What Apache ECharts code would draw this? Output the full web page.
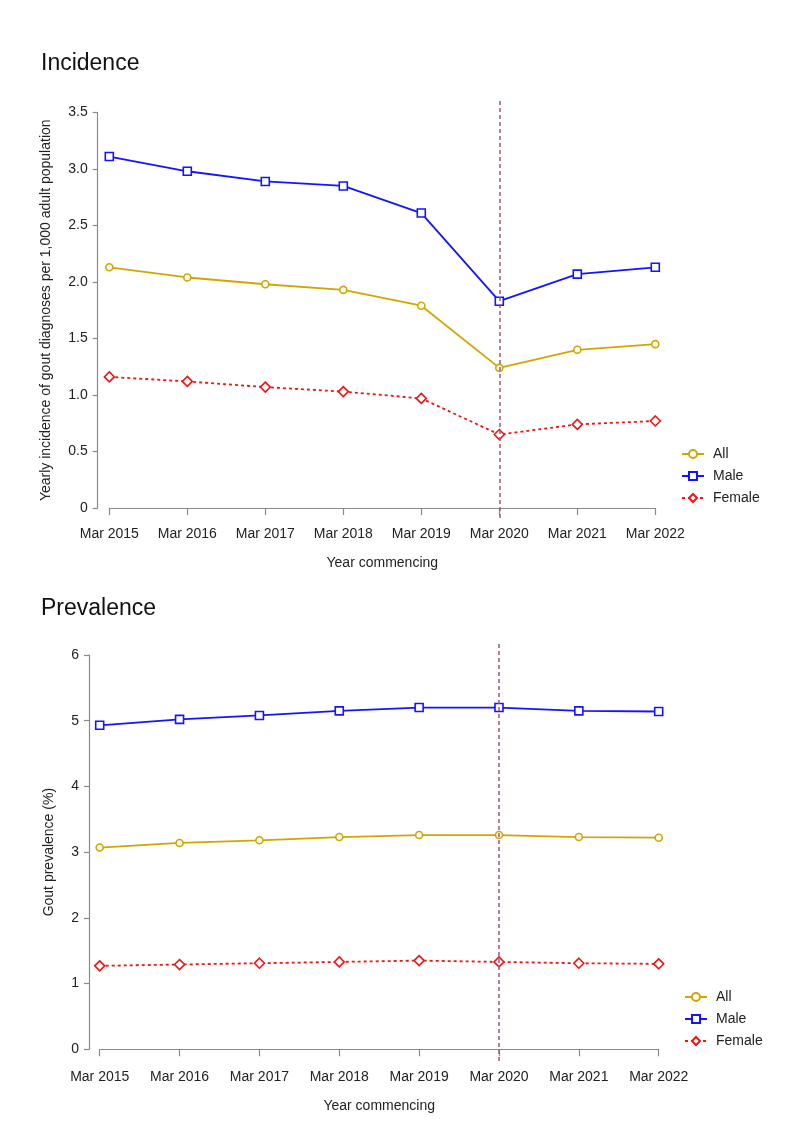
<!DOCTYPE html>
<html>
<head>
<meta charset="utf-8">
<script src="https://cdn.jsdelivr.net/npm/echarts@6/dist/echarts.min.js"></script>
<style>
html,body{margin:0;padding:0;background:#fff;}
#c{width:800px;height:1148px;}
</style>
</head>
<body>
<div id="c"></div>
<script>
const categories = ['Mar 2015','Mar 2016','Mar 2017','Mar 2018','Mar 2019','Mar 2020','Mar 2021','Mar 2022'];
const incAll    = [2.13, 2.04, 1.98, 1.93, 1.79, 1.24, 1.40, 1.45];
const incMale   = [3.11, 2.98, 2.89, 2.85, 2.61, 1.83, 2.07, 2.13];
const incFemale = [1.16, 1.12, 1.07, 1.03, 0.97, 0.65, 0.74, 0.77];
const prevAll    = [3.07, 3.14, 3.18, 3.23, 3.26, 3.26, 3.23, 3.22];
const prevMale   = [4.93, 5.02, 5.08, 5.15, 5.20, 5.20, 5.15, 5.14];
const prevFemale = [1.27, 1.29, 1.31, 1.33, 1.35, 1.33, 1.31, 1.30];
const incTicks = [0, 0.5, 1.0, 1.5, 2.0, 2.5, 3.0, 3.5];
const prevTicks = [0, 1, 2, 3, 4, 5, 6];
const markerYear = 'Mar 2020';

const FONT = 'Liberation Sans, Arial, sans-serif';
const C_ALL = '#d1a600', C_MALE = '#1414ff', C_FEM = '#f01414', C_VL = '#a05580';
const axisCol = '#8a8a8a';

function mkSeries(name, data, xi, yi){
  const cfg = {
    All:    {color:C_ALL,  symbol:'circle', size:7, type:'solid'},
    Male:   {color:C_MALE, symbol:'rect',   size:8, type:'solid'},
    Female: {color:C_FEM,  symbol:'diamond',size:10, type:[3,3]}
  }[name];
  return {
    name, type:'line', data, xAxisIndex:xi, yAxisIndex:yi,
    symbol:cfg.symbol, symbolSize:cfg.size, showSymbol:true,
    itemStyle:{color:'#fff', borderColor:cfg.color, borderWidth:1.6},
    lineStyle:{color:cfg.color, width:1.8, type:cfg.type},
    color:cfg.color, animation:false, z:3
  };
}

const chart = echarts.init(document.getElementById('c'), null, {renderer:'canvas'});

const xAxisBase = (gi, offset, show) => ({
  type:'category', data:categories, gridIndex:gi, boundaryGap:false, show:show,
  offset:offset,
  axisLine:{show:true, lineStyle:{color:axisCol, width:1.2}},
  axisTick:{show:true, alignWithLabel:true, length:7, lineStyle:{color:axisCol, width:1.2}},
  axisLabel:{color:'#222', fontSize:14, fontFamily:FONT, margin:9},
  splitLine:{show:false},
  name:'Year commencing', nameLocation:'middle', nameGap:38,
  nameTextStyle:{color:'#222', fontSize:14, fontFamily:FONT}
});

const legendText = {fontSize:14, color:'#222', fontFamily:FONT, lineHeight:14, padding:[0,0,0,4]};

const option = {
  backgroundColor:'#fff',
  animation:false,
  textStyle:{fontFamily:FONT},
  title:[
    {text:'Incidence', left:36, top:47, textStyle:{fontSize:23, fontWeight:'normal', color:'#111', fontFamily:FONT}},
    {text:'Prevalence', left:36, top:592, textStyle:{fontSize:23, fontWeight:'normal', color:'#111', fontFamily:FONT}}
  ],
  grid:[
    {left:109.3, right:144.7, top:112.5, bottom:640},
    {left:99.7, right:141.3, top:655, bottom:98.7},
    {left:109.3, right:144.7, top:98, bottom:630},
    {left:99.7, right:141.3, top:643, bottom:87}
  ],
  xAxis:[
    xAxisBase(0, 10, true),
    xAxisBase(1, 11.7, true),
    {type:'category', data:categories, gridIndex:2, boundaryGap:false, show:false},
    {type:'category', data:categories, gridIndex:3, boundaryGap:false, show:false}
  ],
  yAxis:[
    {type:'value', gridIndex:0, min:incTicks[0], max:incTicks[incTicks.length-1], interval:0.5, offset:11.6,
     axisLine:{show:true, lineStyle:{color:axisCol, width:1.2}},
     axisTick:{show:true, length:5, lineStyle:{color:axisCol, width:1.2}},
     axisLabel:{color:'#222', fontSize:14, fontFamily:FONT, margin:10,
       formatter:v => v===0 ? '0' : v.toFixed(1)},
     splitLine:{show:false},
     name:'Yearly incidence of gout diagnoses per 1,000 adult population',
     nameLocation:'middle', nameGap:45,
     nameTextStyle:{color:'#222', fontSize:14, fontFamily:FONT}},
    {type:'value', gridIndex:1, min:prevTicks[0], max:prevTicks[prevTicks.length-1], interval:1, offset:10.7,
     axisLine:{show:true, lineStyle:{color:axisCol, width:1.2}},
     axisTick:{show:true, length:5, lineStyle:{color:axisCol, width:1.2}},
     axisLabel:{color:'#222', fontSize:14, fontFamily:FONT, margin:10},
     splitLine:{show:false},
     name:'Gout prevalence (%)',
     nameLocation:'middle', nameGap:33,
     nameTextStyle:{color:'#222', fontSize:14, fontFamily:FONT}},
    {type:'value', gridIndex:2, min:0, max:1, show:false},
    {type:'value', gridIndex:3, min:0, max:1, show:false}
  ],
  legend:[
    {orient:'vertical', left:676, top:442, itemWidth:22, itemHeight:10, itemGap:8,
     data:['All','Male','Female'], selectedMode:false, textStyle:legendText},
    {orient:'vertical', left:679, top:985, itemWidth:22, itemHeight:10, itemGap:8,
     data:['All','Male','Female'], selectedMode:false, textStyle:legendText}
  ],
  series:[
    mkSeries('All', incAll, 0, 0),
    mkSeries('Male', incMale, 0, 0),
    mkSeries('Female', incFemale, 0, 0),
    mkSeries('All', prevAll, 1, 1),
    mkSeries('Male', prevMale, 1, 1),
    mkSeries('Female', prevFemale, 1, 1),
    {type:'line', xAxisIndex:2, yAxisIndex:2, data:categories.map(()=>null), silent:true,
     markLine:{silent:true, symbol:'none', label:{show:false},
       lineStyle:{color:C_VL, type:[4,3], width:1.5},
       data:[{xAxis:markerYear}]}},
    {type:'line', xAxisIndex:3, yAxisIndex:3, data:categories.map(()=>null), silent:true,
     markLine:{silent:true, symbol:'none', label:{show:false},
       lineStyle:{color:C_VL, type:[4,3], width:1.5},
       data:[{xAxis:markerYear}]}}
  ]
};
chart.setOption(option);
</script>
</body>
</html>
